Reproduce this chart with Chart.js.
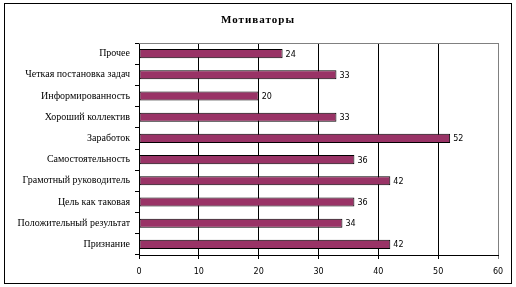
<!DOCTYPE html>
<html>
<head>
<style>
	body { margin: 0; background: #fff; }
	#wrap { width: 516px; height: 287px; }
</style>
</head>
<body>
	<div id="wrap"><canvas id="myChart" width="516" height="287"></canvas></div>

	<script src="https://cdn.jsdelivr.net/npm/chart.js"></script>
	<script>
		const title = 'Мотиваторы';
		const labels = ['Прочее', 'Четкая постановка задач', 'Информированность', 'Хороший коллектив', 'Заработок',
			'Самостоятельность', 'Грамотный руководитель', 'Цель как таковая', 'Положительный результат', 'Признание'];
		const values = [24, 33, 20, 33, 52, 36, 42, 36, 34, 42];
		const xTicks = [0, 10, 20, 30, 40, 50, 60];

		// frame, title, top border and value labels
		const extras = {
			id: 'extras',
			beforeDraw(chart) {
				const c = chart.ctx;
				c.save();
				c.fillStyle = '#fff';
				c.fillRect(0, 0, chart.width, chart.height);
				c.strokeStyle = '#000';
				c.lineWidth = 1;
				c.strokeRect(4.5, 3.5, 507, 280);
				c.restore();
			},
			afterDraw(chart) {
				const c = chart.ctx;
				const a = chart.chartArea;
				c.save();
				c.strokeStyle = '#808080';
				c.beginPath();
				c.moveTo(a.left, Math.round(a.top) + 0.5);
				c.lineTo(a.right, Math.round(a.top) + 0.5);
				c.stroke();

				c.fillStyle = '#000';
				c.font = 'bold 11px "Liberation Serif"';
				c.letterSpacing = '1px';
				c.textAlign = 'center';
				c.textBaseline = 'middle';
				c.fillText(title, 258, 20);
				c.letterSpacing = '0px';

				c.font = '8px "DejaVu Sans"';
				c.textAlign = 'left';
				chart.getDatasetMeta(0).data.forEach((bar, i) => {
					c.fillText(values[i], bar.x + 3, bar.y + 1);
				});
				c.restore();
			}
		};

		new Chart(document.getElementById('myChart'), {
			type: 'bar',
			data: {
				labels: labels,
				datasets: [{
					data: values,
					backgroundColor: '#993366',
					borderColor: '#000',
					borderWidth: 1,
					borderSkipped: false,
					barPercentage: 0.43,
					categoryPercentage: 1
				}]
			},
			options: {
				indexAxis: 'y',
				responsive: false,
				animation: false,
				layout: { padding: { top: 43, right: 18, left: 0, bottom: 0 } },
				plugins: { legend: { display: false }, tooltip: { enabled: false } },
				scales: {
					x: {
						min: 0, max: 60,
						afterBuildTicks: (s) => { s.ticks = xTicks.map(v => ({ value: v })); },
						afterFit: (s) => { s.height = 32; },
						border: { color: '#000' },
						grid: {
							color: (ctx) => ctx.tick && ctx.tick.value === 60 ? '#808080' : '#000',
							tickLength: 4
						},
						ticks: { color: '#000', font: { family: 'DejaVu Sans', size: 8 }, padding: 8 }
					},
					y: {
						afterFit: (s) => { s.width = 139; },
						border: { color: '#000' },
						grid: { drawOnChartArea: false, offset: true, color: '#000', tickLength: 4 },
						ticks: { color: '#000', font: { family: 'Liberation Serif', size: 10 }, padding: 5 }
					}
				}
			},
			plugins: [extras]
		});
	</script>
</body>
</html>
